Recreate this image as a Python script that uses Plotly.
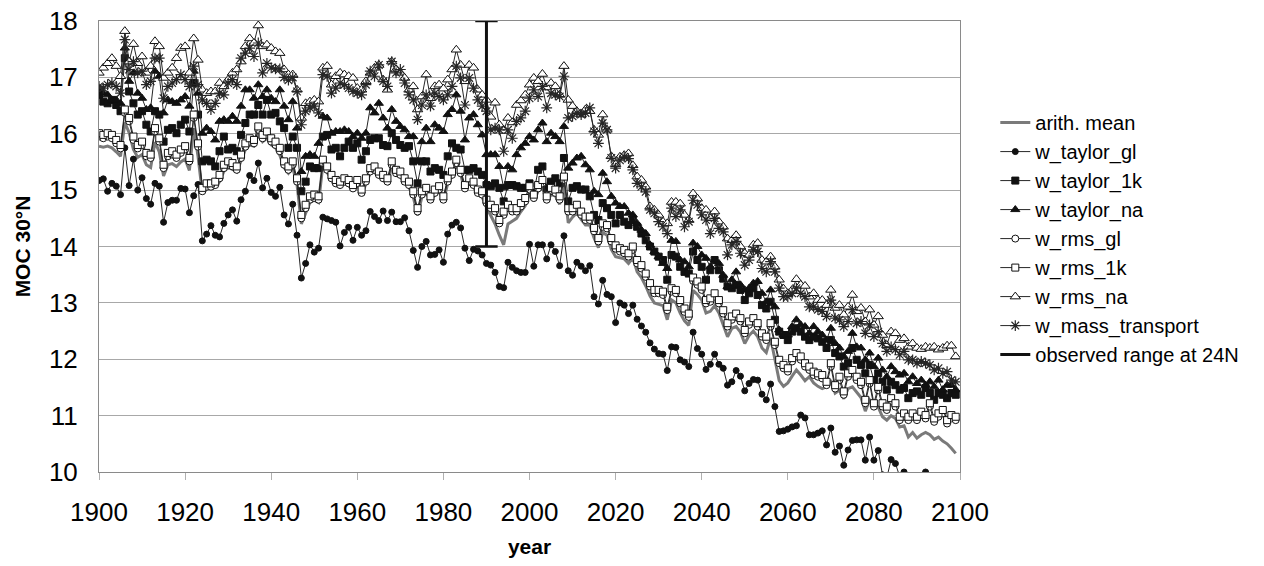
import plotly.graph_objects as go

years = list(range(1900, 2100))

arith_mean = [
    15.78, 15.76, 15.78, 15.75, 15.68, 15.60, 16.20, 16.02, 15.72, 15.58,
    15.63, 15.45, 15.40, 15.85, 15.68, 15.25, 15.45, 15.47, 15.42, 15.50,
    15.55, 15.35, 16.10, 15.60, 14.95, 15.02, 15.03, 15.05, 15.15, 15.33,
    15.40, 15.37, 15.32, 15.52, 15.72, 15.80, 15.78, 16.00, 15.86, 15.92,
    15.80, 15.75, 15.62, 15.40, 15.30, 15.40, 15.10, 14.40, 14.60, 14.78,
    14.82, 14.78, 15.45, 15.32, 15.18, 15.08, 15.05, 15.12, 15.08, 15.00,
    15.08, 14.92, 15.12, 15.30, 15.33, 15.23, 15.18, 15.12, 15.42, 15.27,
    15.24, 15.12, 15.05, 14.88, 14.55, 14.88, 14.95, 14.80, 14.92, 14.98,
    14.80, 15.12, 15.25, 15.45, 15.28, 15.00, 15.12, 15.06, 14.92, 14.88,
    14.70, 14.55, 14.40, 14.20, 14.03, 14.40, 14.45, 14.50, 14.62, 14.72,
    14.95, 14.80, 14.98, 15.05, 14.78, 14.92, 14.90, 14.75, 15.10, 14.42,
    14.52, 14.60, 14.48, 14.38, 14.38, 14.15, 13.98, 14.25, 14.20, 13.95,
    13.82, 13.80, 13.78, 13.70, 13.80, 13.55, 13.45, 13.30, 13.12, 13.00,
    12.98, 12.95, 12.70, 13.05, 13.00, 12.82, 12.68, 12.60, 13.22, 13.15,
    13.05, 12.82, 12.85, 12.95, 12.82, 12.62, 12.40, 12.55, 12.58, 12.48,
    12.28, 12.42, 12.50, 12.40, 12.20, 12.12, 12.38, 12.00, 11.62, 11.52,
    11.58, 11.70, 11.81, 11.72, 11.62, 11.69, 11.58, 11.52, 11.48, 11.51,
    11.63, 11.40, 11.45, 11.30, 11.48, 11.51, 11.42, 11.32, 11.08, 11.28,
    11.20, 11.15, 10.98, 10.92, 11.00, 10.95, 10.80, 10.82, 10.62, 10.70,
    10.60, 10.66, 10.70, 10.66, 10.58, 10.62, 10.55, 10.50, 10.42, 10.33,
]

w_taylor_gl = [
    15.17, 15.20, 14.98, 15.12, 15.07, 14.92, 15.75, 15.08, 15.55, 15.00,
    15.22, 14.85, 14.75, 15.12, 15.07, 14.43, 14.78, 14.82, 14.82, 15.03,
    15.02, 14.60, 14.90, 15.10, 14.10, 14.22, 14.37, 14.20, 14.17, 14.41,
    14.56, 14.65, 14.45, 14.83, 14.98, 15.26, 15.17, 15.48, 15.04, 15.21,
    14.96, 14.89, 15.05, 14.56, 14.40, 14.75, 14.20, 13.44, 13.70, 14.03,
    13.90, 13.97, 14.52, 14.49, 14.46, 14.43, 14.01, 14.25, 14.34, 14.11,
    14.34, 14.20, 14.28, 14.62, 14.53, 14.46, 14.63, 14.46, 14.61, 14.44,
    14.44, 14.51, 14.28, 13.93, 13.63, 14.00, 14.09, 13.85, 13.86, 13.94,
    13.72, 14.22, 14.38, 14.43, 14.33, 13.97, 13.75, 13.95, 13.92, 13.85,
    13.70, 13.67, 13.54, 13.29, 13.27, 13.72, 13.63, 13.57, 13.54, 13.54,
    14.04, 13.65, 14.03, 14.03, 13.78, 14.03, 13.91, 13.66, 14.19, 13.57,
    13.49, 13.72, 13.65, 13.57, 13.66, 13.11, 12.98, 13.40, 13.15, 13.11,
    12.65, 13.00, 12.96, 12.81, 12.96, 12.71, 12.59, 12.48, 12.29, 12.18,
    12.10, 12.09, 11.80, 12.22, 12.21, 11.99, 11.95, 11.87, 12.48, 12.19,
    12.09, 11.82, 11.91, 12.09, 11.91, 11.84, 11.54, 11.60, 11.80, 11.70,
    11.44, 11.57, 11.64, 11.63, 11.38, 11.28, 11.56, 11.16, 10.72, 10.73,
    10.76, 10.80, 10.82, 11.01, 10.96, 10.66, 10.66, 10.69, 10.73, 10.48,
    10.78, 10.35, 10.46, 10.12, 10.39, 10.56, 10.57, 10.57, 10.21, 10.62,
    10.21, 10.38, 9.95, 9.90, 10.22, 10.15, 9.92, 10.00, 9.75, 9.80,
    9.78, 9.85, 10.00, 9.80, 9.75, 9.85, 9.82, 9.90, 9.75, 9.80,
]

w_taylor_1k = [
    16.69, 16.57, 16.54, 16.60, 16.51, 16.40, 17.34, 16.75, 16.54, 16.34,
    16.40, 16.16, 16.04, 16.40, 16.34, 15.86, 16.07, 16.10, 16.01, 16.16,
    16.25, 16.04, 16.90, 16.34, 15.51, 15.54, 15.51, 15.42, 15.69, 15.95,
    15.72, 15.75, 15.69, 15.98, 16.19, 16.34, 16.34, 16.51, 16.34, 16.60,
    16.34, 16.37, 16.22, 16.10, 15.75, 15.95, 15.75, 14.98, 15.15, 15.42,
    15.39, 15.39, 15.95, 15.98, 15.72, 15.75, 15.60, 15.75, 15.86, 15.75,
    15.83, 15.54, 15.69, 15.89, 15.92, 15.92, 15.80, 15.78, 16.01, 15.89,
    15.80, 15.75, 15.78, 15.51, 15.12, 15.51, 15.51, 15.33, 15.39, 15.36,
    15.27, 15.60, 15.83, 15.75, 15.72, 15.36, 15.36, 15.39, 15.33, 15.27,
    15.09, 15.07, 15.12, 15.04, 14.80, 15.09, 15.09, 15.07, 15.04, 15.04,
    15.12, 14.95, 15.36, 15.42, 15.04, 15.15, 15.21, 15.12, 15.57, 14.80,
    15.04, 15.07, 15.01, 15.01, 14.89, 14.56, 14.47, 14.77, 14.68, 14.56,
    14.41, 14.56, 14.44, 14.38, 14.47, 14.35, 14.23, 14.11, 14.00, 13.91,
    13.82, 13.76, 13.41, 13.85, 13.82, 13.64, 13.55, 13.52, 13.91, 13.76,
    13.64, 13.41, 13.58, 13.76, 13.58, 13.43, 13.29, 13.26, 13.32, 13.23,
    13.05, 13.17, 13.26, 13.14, 12.96, 12.90, 13.02, 12.70, 12.49, 12.43,
    12.34, 12.49, 12.55, 12.49, 12.40, 12.34, 12.40, 12.37, 12.31, 12.20,
    12.34, 12.11, 12.05, 11.87, 11.93, 12.20, 11.99, 11.90, 11.75, 11.90,
    11.63, 11.75, 11.60, 11.46, 11.60, 11.54, 11.46, 11.49, 11.31, 11.40,
    11.43, 11.37, 11.49, 11.40, 11.28, 11.40, 11.37, 11.31, 11.40, 11.37,
]

w_taylor_na = [
    16.75, 16.72, 16.69, 16.60, 16.60, 16.54, 17.52, 16.93, 17.08, 16.72,
    16.63, 16.43, 16.46, 17.11, 17.02, 16.37, 16.60, 16.57, 16.54, 16.60,
    16.66, 16.49, 17.11, 16.72, 16.01, 16.10, 16.04, 15.89, 16.22, 16.25,
    16.22, 16.31, 16.22, 16.49, 16.78, 16.78, 16.63, 16.87, 16.66, 16.78,
    16.63, 16.57, 16.78, 16.49, 16.25, 16.57, 16.10, 15.33, 15.60, 15.63,
    15.60, 15.83, 16.31, 16.28, 16.01, 16.04, 16.04, 16.07, 16.04, 15.95,
    16.01, 15.92, 16.01, 16.46, 16.37, 16.54, 16.28, 16.10, 16.43, 16.22,
    16.13, 16.07, 15.95, 15.95, 15.51, 15.86, 16.10, 15.86, 16.16, 16.10,
    16.04, 16.34, 16.43, 16.69, 16.40, 15.89, 16.28, 16.34, 16.16, 15.98,
    15.63, 15.63, 15.63, 15.42, 15.04, 15.42, 15.36, 15.63, 15.75, 15.83,
    15.95, 15.89, 16.07, 16.19, 15.86, 16.01, 15.95, 15.86, 16.13, 15.39,
    15.48, 15.57, 15.60, 15.45, 15.36, 14.98, 14.92, 15.30, 15.15, 14.89,
    14.77, 14.71, 14.71, 14.59, 14.56, 14.41, 14.29, 14.23, 14.03, 13.91,
    13.82, 13.70, 13.61, 14.11, 14.09, 13.76, 13.73, 13.64, 14.06, 14.00,
    13.85, 13.79, 13.64, 13.76, 13.70, 13.49, 13.29, 13.41, 13.55, 13.32,
    13.23, 13.26, 13.35, 13.38, 13.17, 13.02, 13.23, 12.93, 12.52, 12.43,
    12.43, 12.58, 12.70, 12.61, 12.58, 12.46, 12.58, 12.49, 12.43, 12.34,
    12.55, 12.28, 12.20, 12.05, 12.14, 12.46, 12.22, 12.20, 11.99, 12.11,
    11.87, 12.02, 11.81, 11.69, 11.87, 11.78, 11.72, 11.75, 11.60, 11.69,
    11.57, 11.63, 11.54, 11.60, 11.51, 11.63, 11.46, 11.54, 11.54, 11.46,
]

w_rms_gl = [
    15.95, 15.92, 15.95, 15.92, 15.83, 15.74, 16.37, 16.22, 15.89, 15.74,
    15.80, 15.60, 15.57, 16.04, 15.86, 15.39, 15.60, 15.63, 15.57, 15.66,
    15.72, 15.51, 16.28, 15.77, 14.98, 15.06, 15.06, 15.09, 15.21, 15.39,
    15.45, 15.42, 15.36, 15.57, 15.77, 15.86, 15.83, 16.07, 15.92, 15.98,
    15.86, 15.80, 15.69, 15.45, 15.36, 15.45, 15.15, 14.50, 14.68, 14.83,
    14.86, 14.83, 15.48, 15.36, 15.21, 15.12, 15.09, 15.15, 15.12, 15.03,
    15.12, 14.95, 15.15, 15.33, 15.36, 15.27, 15.21, 15.15, 15.45, 15.30,
    15.27, 15.15, 15.09, 14.92, 14.62, 14.92, 14.98, 14.83, 14.95, 15.01,
    14.83, 15.15, 15.27, 15.48, 15.30, 15.03, 15.15, 15.09, 14.95, 14.92,
    14.77, 14.68, 14.62, 14.41, 14.56, 14.68, 14.62, 14.62, 14.71, 14.80,
    15.01, 14.86, 15.03, 15.12, 14.83, 14.98, 14.95, 14.83, 15.18, 14.62,
    14.62, 14.68, 14.56, 14.47, 14.47, 14.27, 14.09, 14.35, 14.32, 14.09,
    13.96, 13.91, 13.88, 13.82, 13.94, 13.70, 13.61, 13.46, 13.29, 13.17,
    13.17, 13.14, 12.87, 13.20, 13.17, 12.99, 12.84, 12.75, 13.39, 13.32,
    13.23, 12.99, 13.02, 13.11, 12.99, 12.81, 12.58, 12.70, 12.75, 12.67,
    12.46, 12.61, 12.67, 12.58, 12.40, 12.34, 12.58, 12.25, 11.93, 11.84,
    11.78, 11.96, 12.05, 11.99, 11.87, 11.81, 11.72, 11.69, 11.66, 11.54,
    11.87, 11.48, 11.63, 11.37, 11.69, 11.75, 11.63, 11.54, 11.22, 11.57,
    11.16, 11.45, 11.16, 11.10, 11.25, 11.16, 10.92, 10.98, 10.92, 10.98,
    10.92, 11.01, 10.95, 11.16, 10.89, 10.98, 11.04, 10.86, 10.95, 10.92,
]

w_rms_1k = [
    16.01, 15.98, 16.01, 15.98, 15.89, 15.80, 16.43, 16.28, 15.95, 15.80,
    15.86, 15.66, 15.63, 16.10, 15.92, 15.45, 15.66, 15.69, 15.63, 15.72,
    15.78, 15.57, 16.34, 15.83, 15.04, 15.12, 15.12, 15.15, 15.27, 15.45,
    15.51, 15.48, 15.42, 15.63, 15.83, 15.92, 15.89, 16.13, 15.98, 16.04,
    15.92, 15.86, 15.75, 15.51, 15.42, 15.51, 15.21, 14.56, 14.74, 14.89,
    14.92, 14.89, 15.54, 15.42, 15.27, 15.18, 15.15, 15.21, 15.18, 15.09,
    15.18, 15.01, 15.21, 15.39, 15.42, 15.33, 15.27, 15.21, 15.51, 15.36,
    15.33, 15.21, 15.15, 14.98, 14.68, 14.98, 15.04, 14.89, 15.01, 15.07,
    14.89, 15.21, 15.33, 15.54, 15.36, 15.09, 15.21, 15.15, 15.01, 14.98,
    14.83, 14.74, 14.68, 14.47, 14.62, 14.74, 14.68, 14.68, 14.77, 14.86,
    15.07, 14.92, 15.09, 15.18, 14.89, 15.04, 15.01, 14.89, 15.24, 14.68,
    14.68, 14.74, 14.62, 14.53, 14.53, 14.33, 14.15, 14.41, 14.38, 14.15,
    14.02, 13.97, 13.94, 13.88, 14.00, 13.76, 13.67, 13.52, 13.35, 13.23,
    13.23, 13.20, 12.93, 13.26, 13.23, 13.05, 12.90, 12.81, 13.45, 13.38,
    13.29, 13.05, 13.08, 13.17, 13.05, 12.87, 12.64, 12.76, 12.81, 12.73,
    12.52, 12.67, 12.73, 12.64, 12.46, 12.40, 12.64, 12.31, 11.99, 11.90,
    11.84, 12.02, 12.11, 12.05, 11.93, 11.87, 11.78, 11.75, 11.72, 11.60,
    11.93, 11.54, 11.69, 11.43, 11.75, 11.81, 11.69, 11.60, 11.28, 11.63,
    11.22, 11.51, 11.22, 11.16, 11.31, 11.22, 10.98, 11.04, 10.98, 11.04,
    10.98, 11.07, 11.01, 11.22, 10.95, 11.04, 11.10, 10.92, 11.01, 10.98,
]

w_rms_na = [
    17.08, 17.17, 17.25, 17.34, 17.20, 17.02, 17.82, 17.28, 17.59, 17.25,
    17.37, 17.08, 17.20, 17.64, 17.55, 16.99, 17.08, 17.17, 17.34, 17.52,
    17.55, 17.08, 17.69, 17.31, 16.78, 16.72, 16.75, 16.75, 16.90, 16.84,
    16.96, 17.08, 17.14, 17.28, 17.55, 17.69, 17.61, 17.92, 17.55, 17.58,
    17.52, 17.46, 17.43, 17.14, 17.05, 17.05, 16.78, 16.28, 16.54, 16.57,
    16.60, 16.57, 17.17, 17.20, 16.87, 17.02, 17.08, 17.05, 17.02, 16.99,
    16.81, 16.78, 16.93, 17.08, 17.17, 17.22, 16.96, 16.78, 17.28, 17.14,
    17.08, 16.99, 16.78, 16.84, 16.43, 16.66, 17.05, 16.63, 16.84, 16.87,
    16.80, 16.96, 17.14, 17.49, 17.22, 16.93, 17.22, 17.17, 16.78, 16.69,
    16.60, 16.30, 16.55, 16.16, 16.05, 16.28, 16.20, 16.51, 16.59, 16.69,
    16.87, 16.99, 16.93, 17.06, 16.82, 16.90, 16.84, 16.69, 17.20, 16.60,
    16.49, 16.40, 16.34, 16.43, 16.40, 16.07, 15.98, 16.34, 16.07, 15.60,
    15.46, 15.59, 15.62, 15.65, 15.44, 15.24, 15.18, 15.06, 14.71, 14.65,
    14.56, 14.44, 14.41, 14.79, 14.79, 14.76, 14.56, 14.47, 14.94, 14.85,
    14.68, 14.65, 14.50, 14.62, 14.44, 14.35, 14.14, 14.11, 14.20, 14.00,
    13.88, 13.85, 14.03, 14.06, 13.76, 13.73, 13.82, 13.64, 13.41, 13.25,
    13.17, 13.23, 13.42, 13.32, 13.30, 13.11, 13.17, 13.05, 13.05, 12.96,
    13.23, 12.91, 12.96, 12.79, 12.93, 13.14, 12.85, 12.91, 12.67, 12.88,
    12.61, 12.76, 12.43, 12.25, 12.49, 12.46, 12.34, 12.37, 12.22, 12.28,
    12.20, 12.18, 12.22, 12.20, 12.22, 12.17, 12.20, 12.24, 12.24, 12.05,
]

w_mass_transport = [
    16.84, 16.81, 16.87, 16.90, 16.84, 16.72, 17.67, 17.14, 17.28, 17.08,
    17.11, 16.87, 16.93, 17.34, 17.34, 16.63, 16.84, 16.90, 16.96, 17.05,
    16.96, 16.84, 17.20, 16.87, 16.60, 16.54, 16.43, 16.54, 16.72, 16.69,
    16.90, 16.96, 16.87, 17.34, 17.43, 17.52, 17.37, 17.61, 17.08, 17.25,
    17.17, 17.15, 17.15, 17.00, 16.95, 17.00, 16.75, 16.16, 16.40, 16.46,
    16.49, 16.37, 17.05, 17.02, 16.72, 16.81, 16.90, 16.87, 16.81, 16.75,
    16.72, 16.69, 16.87, 17.11, 17.02, 17.22, 16.93, 16.84, 17.28, 17.08,
    17.14, 16.90, 16.69, 16.60, 16.25, 16.51, 16.69, 16.49, 16.72, 16.66,
    16.60, 16.69, 16.84, 17.20, 16.99, 16.51, 16.99, 16.81, 16.60, 16.49,
    16.40, 16.07, 16.10, 16.07, 15.69, 16.07, 15.92, 16.22, 16.28, 16.40,
    16.63, 16.78, 16.66, 16.84, 16.46, 16.72, 16.69, 16.66, 17.02, 16.28,
    16.31, 16.37, 16.34, 16.37, 16.46, 16.04, 15.83, 16.19, 16.07, 15.57,
    15.39, 15.53, 15.59, 15.56, 15.36, 15.12, 15.06, 14.97, 14.65, 14.59,
    14.44, 14.35, 14.23, 14.68, 14.53, 14.65, 14.35, 14.44, 14.82, 14.74,
    14.56, 14.47, 14.23, 14.50, 14.32, 14.26, 13.85, 14.03, 14.09, 13.88,
    13.67, 13.76, 13.94, 13.91, 13.61, 13.55, 13.73, 13.55, 13.26, 13.11,
    13.11, 13.17, 13.26, 13.17, 13.11, 12.93, 12.93, 12.88, 12.85, 12.76,
    13.05, 12.73, 12.70, 12.58, 12.67, 12.88, 12.64, 12.67, 12.46, 12.61,
    12.40, 12.49, 12.28, 12.14, 12.22, 12.17, 12.08, 12.14, 11.99, 11.99,
    11.93, 11.96, 11.93, 11.90, 11.81, 11.84, 11.75, 11.78, 11.63, 11.60,
]

obs_year = 1990
obs_low = 14
obs_high = 18

FONT = "Liberation Sans, Arial, sans-serif"
LINE = "#262626"

fig = go.Figure()

fig.add_trace(go.Scatter(
    x=years, y=arith_mean, name="arith. mean", mode="lines",
    line=dict(color="#7a7a7a", width=3),
))

marker_series = [
    ("w_taylor_gl", w_taylor_gl, "circle", 6, "#111111"),
    ("w_taylor_1k", w_taylor_1k, "square", 7, "#111111"),
    ("w_taylor_na", w_taylor_na, "triangle-up", 8, "#111111"),
    ("w_rms_gl", w_rms_gl, "circle", 7, "white"),
    ("w_rms_1k", w_rms_1k, "square", 7, "white"),
    ("w_rms_na", w_rms_na, "triangle-up", 9, "white"),
]
for name, vals, sym, size, fill in marker_series:
    fig.add_trace(go.Scatter(
        x=years, y=vals, name=name, mode="lines+markers",
        line=dict(color=LINE, width=1),
        marker=dict(symbol=sym, size=size, color=fill,
                    line=dict(color="#111111", width=1)),
    ))

fig.add_trace(go.Scatter(
    x=years, y=w_mass_transport, name="w_mass_transport", mode="lines+markers",
    line=dict(color=LINE, width=1),
    marker=dict(symbol="asterisk-open", size=9,
                line=dict(color="#111111", width=1.2)),
))

fig.add_trace(go.Scatter(
    x=[obs_year, obs_year], y=[obs_low, obs_high], name="observed range at 24N",
    mode="lines", line=dict(color="#111111", width=3),
))
fig.add_trace(go.Scatter(
    x=[obs_year, obs_year], y=[obs_low, obs_high], mode="markers",
    showlegend=False, hoverinfo="skip",
    marker=dict(symbol="line-ew", size=16, line=dict(color="#111111", width=2.5)),
))

# the page body keeps an 8px margin: the figure is sized to fit inside it
fig.update_layout(
    width=1248, height=550, autosize=False,
    margin=dict(l=91, r=283, t=13, b=86),
    paper_bgcolor="white", plot_bgcolor="white",
    font=dict(family=FONT, color="black"),
    showlegend=True,
    legend=dict(
        x=1.041, xanchor="left", y=0.818, yanchor="top",
        font=dict(size=20, family=FONT, color="black"),
        bgcolor="rgba(0,0,0,0)", borderwidth=0,
        itemwidth=30,
    ),
)

fig.update_xaxes(
    range=[1900, 2100], tickmode="linear", tick0=1900, dtick=20,
    automargin=False,
    showgrid=False, showline=True, linecolor="#8a8a8a", linewidth=1, mirror=True,
    ticks="outside", ticklen=7, tickcolor="#b0b0b0", tickwidth=1,
    tickfont=dict(size=26, family=FONT, color="black"),
    ticklabelstandoff=10, ticklabeloverflow="allow",
    title=dict(text="<b>year</b>", font=dict(size=21, family=FONT, color="black"),
               standoff=27),
    zeroline=False,
)
fig.update_yaxes(
    range=[10, 18], tickmode="linear", tick0=10, dtick=1,
    automargin=False,
    showgrid=True, gridcolor="#a8a8a8", gridwidth=1,
    showline=True, linecolor="#8a8a8a", linewidth=1, mirror=True,
    ticks="", tickfont=dict(size=26, family=FONT, color="black"),
    ticklabelstandoff=15, ticklabeloverflow="allow",
    title=dict(text="<b>MOC 30°N</b>", font=dict(size=21, family=FONT, color="black"),
               standoff=12),
    zeroline=False,
)

fig.write_html("out.html")
